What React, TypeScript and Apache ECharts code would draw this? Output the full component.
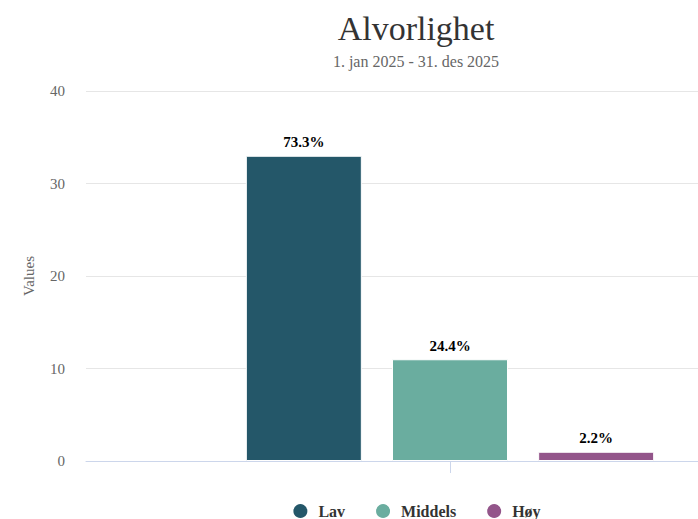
import React, { useEffect, useRef } from "react";
import * as echarts from "echarts";

const categories = [""];
const seriesNames = ["Lav", "Middels", "Høy"];
const seriesValues = [33, 11, 1];
const percentLabels = ["73.3%", "24.4%", "2.2%"];
const seriesColors = ["#245769", "#6aad9f", "#93558a"];
const yTicks = { min: 0, max: 40, interval: 10 };

const FONT = "'Liberation Serif', 'Times New Roman', serif";

export default function App() {
  const ref = useRef<HTMLDivElement>(null);
  useEffect(() => {
    if (!ref.current) return;
    const chart = echarts.init(ref.current, undefined, { renderer: "svg" });
    chart.setOption({
      animation: false,
      backgroundColor: "#ffffff",
      title: {
        text: "Alvorlighet",
        subtext: "1. jan 2025 - 31. des 2025",
        left: "center",
        top: 6,
        itemGap: 8,
        textStyle: { fontFamily: FONT, fontSize: 34, fontWeight: "normal", color: "#333333" },
        subtextStyle: { fontFamily: FONT, fontSize: 16, color: "#666666" },
      },
      legend: {
        top: 502,
        left: "center",
        padding: 0,
        icon: "circle",
        itemWidth: 16,
        itemHeight: 16,
        itemGap: 29,
        textStyle: {
          fontFamily: FONT,
          fontSize: 16,
          fontWeight: "bold",
          color: "#333333",
          padding: [0, 0, 0, 5],
        },
        data: seriesNames,
      },
      grid: { left: 86, right: 18, top: 91, bottom: 58, containLabel: false },
      xAxis: {
        type: "category",
        data: categories,
        axisLine: { lineStyle: { color: "#ccd6eb" } },
        axisTick: { show: true, alignWithLabel: true, length: 12, lineStyle: { color: "#ccd6eb" } },
        axisLabel: { show: false },
      },
      yAxis: {
        type: "value",
        min: yTicks.min,
        max: yTicks.max,
        interval: yTicks.interval,
        name: "Values",
        nameLocation: "middle",
        nameRotate: 90,
        nameGap: 50,
        nameTextStyle: { fontFamily: FONT, fontSize: 15, color: "#666666" },
        axisLabel: { fontFamily: FONT, fontSize: 15, color: "#666666", margin: 21 },
        axisLine: { show: false },
        axisTick: { show: false },
        splitLine: { lineStyle: { color: "#e6e6e6" } },
      },
      series: seriesNames.map((name, i) => ({
        name,
        type: "bar",
        data: [seriesValues[i]],
        barWidth: 116,
        barGap: "26%",
        itemStyle: { color: seriesColors[i], borderColor: "#ffffff", borderWidth: 1 },
        label: {
          show: true,
          position: "top",
          distance: 6,
          formatter: () => percentLabels[i],
          fontFamily: FONT,
          fontSize: 15,
          fontWeight: "bold",
          color: "#000000",
        },
      })),
    });
    return () => chart.dispose();
  }, []);
  return (
    <div style={{ position: "fixed", left: 0, top: 0, width: 698, height: 519, overflow: "hidden", background: "#fff" }}>
      <div ref={ref} style={{ width: 832, height: 519 }} />
    </div>
  );
}
